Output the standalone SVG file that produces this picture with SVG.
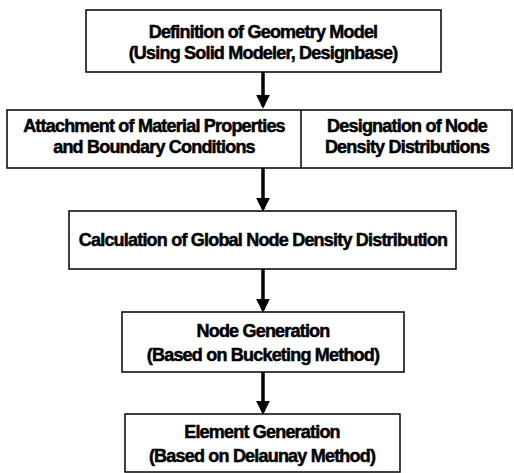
<svg xmlns="http://www.w3.org/2000/svg" width="514" height="473" viewBox="0 0 514 473">
<defs>
<style>
.box{fill:#fff;stroke:#000;stroke-width:1.5}
.t{font-family:"Liberation Sans",Arial,sans-serif;font-weight:bold;font-size:18px;fill:#000;stroke:#000;stroke-width:0.5;text-anchor:middle;letter-spacing:-0.8px}
.c{stroke:#000;stroke-width:3.5;fill:none}
</style>
<marker id="ah" markerWidth="4" markerHeight="4" refX="3.2" refY="2" orient="auto" markerUnits="strokeWidth" viewBox="0 0 4 4">
<path d="M0,0 L4,2 L0,4 Z" fill="#000"/>
</marker>
</defs>
<rect width="514" height="473" fill="#fff"/>
<g id="connectors">
<line class="c" x1="263" y1="72" x2="263" y2="106" marker-end="url(#ah)"/>
<line class="c" x1="263" y1="168" x2="263" y2="209" marker-end="url(#ah)"/>
<line class="c" x1="263" y1="269" x2="263" y2="310" marker-end="url(#ah)"/>
<line class="c" x1="263" y1="372" x2="263" y2="412" marker-end="url(#ah)"/>
</g>
<g id="n1">
<rect class="box" x="86" y="10" width="355" height="62"/>
<text class="t" x="263" y="38">Definition of Geometry Model</text>
<text class="t" x="263" y="59">(Using Solid Modeler, Designbase)</text>
</g>
<g id="n2">
<rect class="box" x="7" y="110" width="505" height="58"/>
<line stroke="#000" stroke-width="1.5" x1="301" y1="110" x2="301" y2="168"/>
<text class="t" x="154" y="132">Attachment of Material Properties</text>
<text class="t" x="154" y="153">and Boundary Conditions</text>
</g>
<g id="n3">
<text class="t" x="407" y="132">Designation of Node</text>
<text class="t" x="407" y="153">Density Distributions</text>
</g>
<g id="n4">
<rect class="box" x="69" y="211" width="387" height="58"/>
<text class="t" x="263" y="246">Calculation of Global Node Density Distribution</text>
</g>
<g id="n5">
<rect class="box" x="122" y="312" width="282" height="60"/>
<text class="t" x="263" y="337">Node Generation</text>
<text class="t" x="263" y="361">(Based on Bucketing Method)</text>
</g>
<g id="n6">
<rect class="box" x="125" y="414" width="275" height="58"/>
<text class="t" x="262" y="438">Element Generation</text>
<text class="t" x="262" y="462">(Based on Delaunay Method)</text>
</g>
</svg>
